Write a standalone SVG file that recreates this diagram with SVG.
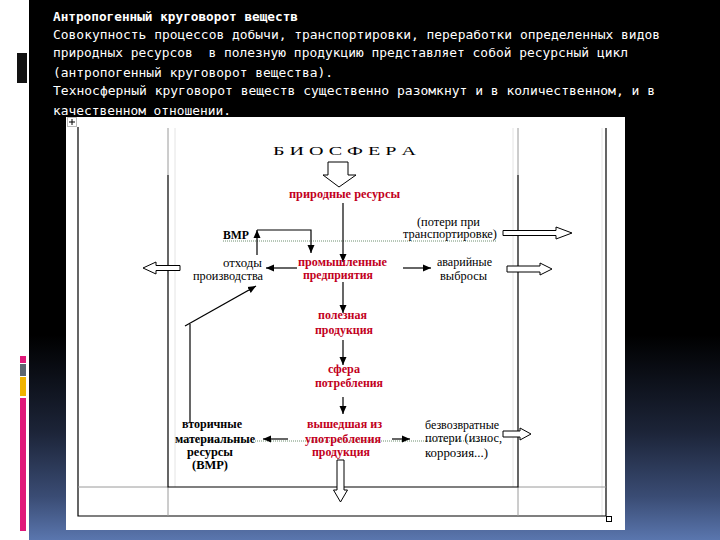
<svg xmlns="http://www.w3.org/2000/svg" width="720" height="540" viewBox="0 0 720 540">
<defs>
<linearGradient id="bg" x1="0" y1="0" x2="0" y2="540" gradientUnits="userSpaceOnUse">
<stop offset="0" stop-color="#000"/>
<stop offset="0.62" stop-color="#000"/>
<stop offset="0.8" stop-color="#1c2438"/>
<stop offset="0.92" stop-color="#3a4c74"/>
<stop offset="1" stop-color="#5a76ae"/>
</linearGradient>
<marker id="ah" viewBox="0 0 8 8" markerWidth="8" markerHeight="8" refX="8" refY="4" orient="auto" markerUnits="userSpaceOnUse">
<path d="M0,0.5 L8,4 L0,7.5 Z" fill="#000"/>
</marker>
<style>
.hd{font-family:"DejaVu Sans Mono","Liberation Mono",monospace;font-size:12.9px;fill:#fff}
.red{font-family:"Liberation Serif",serif;font-size:11.5px;font-weight:bold;fill:#c2001c}
.blk{font-family:"Liberation Serif",serif;font-size:11.5px;fill:#000}
.bb{font-family:"Liberation Serif",serif;font-size:11.5px;font-weight:bold;fill:#000}
.ln{stroke:#000;stroke-width:1.2;fill:none}
.arr{stroke:#000;stroke-width:1.2;fill:none;marker-end:url(#ah)}
.hol{fill:#fff;stroke:#000;stroke-width:1}
.gr{stroke:#9a9a9a;stroke-width:1;fill:none}
.fg{stroke:#e4e4e4;stroke-width:1;fill:none}
.dot{stroke:#6f8f70;stroke-width:1;stroke-dasharray:1,1;fill:none}
</style>
</defs>

<!-- background -->
<rect x="0" y="0" width="720" height="540" fill="#fff"/>
<rect x="29" y="0" width="691" height="540" fill="url(#bg)"/>
<rect x="17" y="53" width="10" height="30" fill="#111"/>
<rect x="20" y="356" width="6" height="7" fill="#e0197a"/>
<rect x="20" y="364" width="6" height="12" fill="#5c6670"/>
<rect x="20" y="377" width="6" height="19" fill="#f0b400"/>
<rect x="20" y="398" width="6" height="133" fill="#e0197a"/>

<!-- header text -->
<g id="header">
<text class="hd" x="53" y="21" font-weight="bold" textLength="245" lengthAdjust="spacingAndGlyphs">Антропогенный круговорот веществ</text>
<text class="hd" x="53" y="39" textLength="607" lengthAdjust="spacingAndGlyphs">Совокупность процессов добычи, транспортировки, переработки определенных видов</text>
<text class="hd" x="53" y="57" xml:space="preserve" textLength="575" lengthAdjust="spacingAndGlyphs">природных ресурсов  в полезную продукцию представляет собой ресурсный цикл</text>
<text class="hd" x="53" y="77" textLength="280" lengthAdjust="spacingAndGlyphs">(антропогенный круговорот вещества).</text>
<text class="hd" x="53" y="95" textLength="602" lengthAdjust="spacingAndGlyphs">Техносферный круговорот веществ существенно разомкнут и в количественном, и в</text>
<text class="hd" x="53" y="115" textLength="178" lengthAdjust="spacingAndGlyphs">качественном отношении.</text>
</g>

<!-- picture area -->
<rect x="66" y="117" width="559" height="413" fill="#fff"/>
<g id="table">
<rect x="67.5" y="117.5" width="9" height="9" fill="#fff" stroke="#bbb" stroke-width="1"/>
<path d="M72,119 V125 M69,122 H75" stroke="#000" stroke-width="1"/>
<path class="fg" d="M175,128 V487 M513,128 V487 M602,128 V516"/>
<path class="ln" d="M78,127 V516 H606 V128"/>
<path class="gr" d="M168,128 V175 M518,128 V175 M168,487 V516 M518,487 V516 M78,487 H168 M518,487 H606"/>
<path class="ln" d="M168,175 V487 H518 V175"/>
<rect x="606.5" y="516.5" width="5" height="5" fill="none" stroke="#000" stroke-width="1"/>
</g>

<!-- connectors -->
<g id="connectors">
<path class="dot" d="M223,241 H497 M177,441 H493"/>
<polygon class="hol" points="328,162 348,162 348,175 356,175 339,187 323,175 328,175"/>
<path class="arr" d="M343,203 V262"/>
<path class="arr" d="M257,255 V230"/>
<path class="arr" d="M257,230 H311 V253"/>
<path class="arr" d="M297,268 H266"/>
<path class="arr" d="M403,268 H431"/>
<polygon class="hol" points="503,230.5 556,230.5 556,227 572,233 556,239 556,235.5 503,235.5"/>
<polygon class="hol" points="507,266 540,266 540,263 552,269 540,275 540,272 507,272"/>
<polygon class="hol" points="180,265.5 156,265.5 156,262 143,268 156,274 156,270.5 180,270.5"/>
<path class="arr" d="M343,282 V313"/>
<path class="arr" d="M343,340 V365"/>
<path class="arr" d="M343,397 V414"/>
<path class="arr" d="M288,439 H263"/>
<path class="arr" d="M392,439 H410"/>
<path class="ln" d="M190,422 V324"/>
<path class="arr" d="M185,326 L256,286"/>
<polygon class="hol" points="503,431 520,431 520,428 531,434 520,440 520,437 503,437"/>
<polygon class="hol" points="337,460 344,460 344,490 347.5,490 340.5,502 333.5,490 337,490"/>
</g>

<!-- nodes -->
<g id="biosfera"><text class="blk" x="344.5" y="155" text-anchor="middle" font-size="12" textLength="143" lengthAdjust="spacingAndGlyphs">Б И О С Ф Е Р А</text></g>
<g id="prirodnye"><text class="red" x="344.5" y="198" text-anchor="middle" textLength="111" lengthAdjust="spacingAndGlyphs">природные ресурсы</text></g>
<g id="vmr-top"><text class="bb" x="236" y="239" text-anchor="middle" textLength="26" lengthAdjust="spacingAndGlyphs">ВМР</text></g>
<g id="poteri-transport">
<text class="blk" x="448.5" y="226" text-anchor="middle" textLength="63" lengthAdjust="spacingAndGlyphs">(потери при</text>
<text class="blk" x="450" y="238" text-anchor="middle" textLength="94" lengthAdjust="spacingAndGlyphs">транспортировке)</text>
</g>
<g id="othody">
<text class="blk" x="242.5" y="267" text-anchor="middle" textLength="39" lengthAdjust="spacingAndGlyphs">отходы</text>
<text class="blk" x="228" y="280" text-anchor="middle" textLength="70" lengthAdjust="spacingAndGlyphs">производства</text>
</g>
<g id="promyshlennye">
<text class="red" x="342.5" y="266" text-anchor="middle" textLength="89" lengthAdjust="spacingAndGlyphs">промышленные</text>
<text class="red" x="338" y="279" text-anchor="middle" textLength="70" lengthAdjust="spacingAndGlyphs">предприятия</text>
</g>
<g id="avariynye">
<text class="blk" x="464.5" y="266" text-anchor="middle" textLength="55" lengthAdjust="spacingAndGlyphs">аварийные</text>
<text class="blk" x="463.5" y="280" text-anchor="middle" textLength="47" lengthAdjust="spacingAndGlyphs">выбросы</text>
</g>
<g id="poleznaya">
<text class="red" x="342.5" y="319" text-anchor="middle" textLength="49" lengthAdjust="spacingAndGlyphs">полезная</text>
<text class="red" x="344" y="334" text-anchor="middle" textLength="58" lengthAdjust="spacingAndGlyphs">продукция</text>
</g>
<g id="sfera">
<text class="red" x="344" y="373" text-anchor="middle" textLength="32" lengthAdjust="spacingAndGlyphs">сфера</text>
<text class="red" x="349" y="387" text-anchor="middle" textLength="68" lengthAdjust="spacingAndGlyphs">потребления</text>
</g>
<g id="vyshedshaya">
<text class="red" x="344.5" y="428" text-anchor="middle" textLength="75" lengthAdjust="spacingAndGlyphs">вышедшая из</text>
<text class="red" x="343" y="443" text-anchor="middle" textLength="76" lengthAdjust="spacingAndGlyphs">употребления</text>
<text class="red" x="341" y="456" text-anchor="middle" textLength="58" lengthAdjust="spacingAndGlyphs">продукция</text>
</g>
<g id="vmr-bottom">
<text class="bb" x="212" y="428" text-anchor="middle" textLength="60" lengthAdjust="spacingAndGlyphs">вторичные</text>
<text class="bb" x="215" y="443" text-anchor="middle" textLength="80" lengthAdjust="spacingAndGlyphs">материальные</text>
<text class="bb" x="210" y="456" text-anchor="middle" textLength="46" lengthAdjust="spacingAndGlyphs">ресурсы</text>
<text class="bb" x="210" y="469" text-anchor="middle" font-size="12" textLength="36" lengthAdjust="spacingAndGlyphs">(ВМР)</text>
</g>
<g id="bezvozvratnye">
<text class="blk" x="425" y="429" textLength="74" lengthAdjust="spacingAndGlyphs">безвозвратные</text>
<text class="blk" x="425" y="442" textLength="77" lengthAdjust="spacingAndGlyphs">потери (износ,</text>
<text class="blk" x="425" y="457" textLength="63" lengthAdjust="spacingAndGlyphs">коррозия...)</text>
</g>
</svg>
